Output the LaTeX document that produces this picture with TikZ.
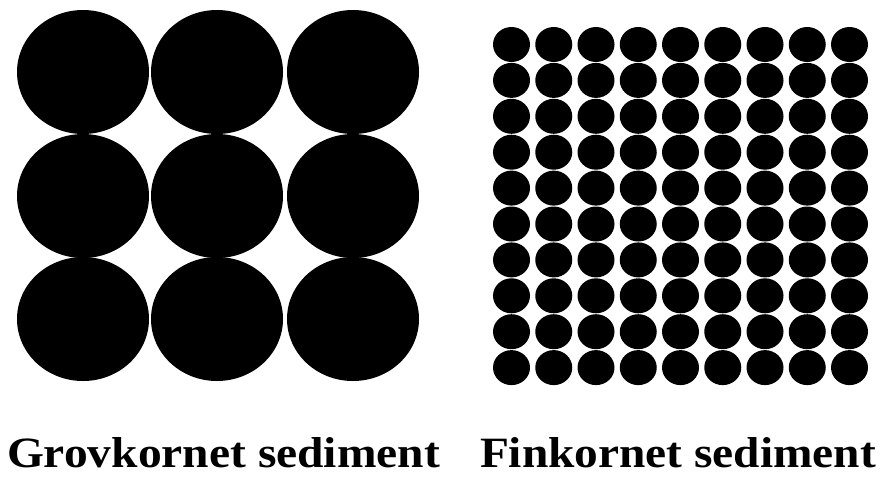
\documentclass[tikz,border=0pt]{standalone}
\usepackage{fontspec}
\setmainfont{Liberation Serif}
\begin{document}
\begin{tikzpicture}[x=1pt,y=-1pt,
  grain/.style={fill=black},
  caption/.style={anchor=base west, inner sep=0pt, outer sep=0pt}]
\useasboundingbox[fill=white] (0,0) rectangle (880,477);
% coarse grains 3x3
\foreach \i/\cx in {0/83,1/217,2/353}{
  \foreach \j/\cy in {0/72,1/196,2/319}{
    \fill[grain] (\cx,\cy) ellipse [x radius=66, y radius=62];
  }
}
% fine grains 9x10
\foreach \i in {0,...,8}{
  \foreach \j in {0,...,9}{
    \fill[grain] ({511.5+42.25*\i},{44.5+35.9*\j}) ellipse [x radius=18.5, y radius=17.5];
  }
}
\node[caption] (coarse) at (7,467) {\resizebox{433pt}{30pt}{\bfseries Grovkornet sediment}};
\node[caption] (fine) at (480,467) {\resizebox{396pt}{30pt}{\bfseries Finkornet sediment}};
\end{tikzpicture}
\end{document}
